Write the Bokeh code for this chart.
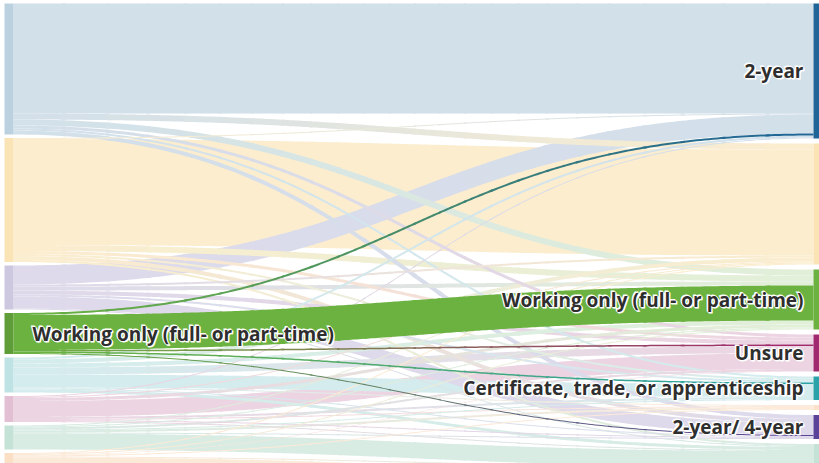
import numpy as np
from bokeh.plotting import figure
from bokeh.models import Range1d, ColumnDataSource
from bokeh.core.properties import value
from bokeh.embed import file_html
from bokeh.resources import INLINE

# ---------------- data ----------------
left_nodes = ["2-year", "4-year", "2-year/ 4-year", "Working only (full- or part-time)",
              "Certificate, trade, or apprenticeship", "Unsure", "Military", "Gap year"]
right_nodes = ["2-year", "4-year", "Working only (full- or part-time)", "Unsure",
               "Certificate, trade, or apprenticeship", "Other", "2-year/ 4-year",
               "Military", "Gap year"]

# flows out of each left node, in the order of right_nodes
flows_2year = [110, 6, 6, 3, 2, 0, 4, 0, 0]
flows_4year = [1, 106, 6, 3, 2, 0, 4, 2, 0]
flows_2y4y = [19, 2, 4, 4, 2, 0, 12, 1, 0]
flows_working = [2, 0, 35, 1.5, 1.5, 0, 1, 0, 0]
flows_cert = [2, 4, 4, 7, 13, 1, 1, 3, 0]
flows_unsure = [1, 1, 3, 16, 2, 1, 1, 1, 0]
flows_military = [0, 1, 1, 2, 1, 2, 1, 16, 0]
flows_gap = [0, 1, 1, 0.5, 0, 1, 0, 1, 17.5]
flow_rows = [flows_2year, flows_4year, flows_2y4y, flows_working,
             flows_cert, flows_unsure, flows_military, flows_gap]

category_colors = {
    "2-year": "#1f6598",
    "4-year": "#eea60a",
    "2-year/ 4-year": "#5b4399",
    "Working only (full- or part-time)": "#6cb241",
    "Certificate, trade, or apprenticeship": "#2aa2a9",
    "Unsure": "#a1296f",
    "Military": "#3c9f74",
    "Gap year": "#f2943a",
    "Other": "#f29a4a",
}
highlight = "Working only (full- or part-time)"

# ---------------- layout constants ----------------
W_FIG, H_FIG = 819, 463
X_MAX, Y_MAX = 819, 463
TOP = 3
LEFT_GAP, RIGHT_GAP = 3.5, 5
L_BAR = (4, 13)
R_BAR = (813, 825)
FADE = 0.2
BAR_FADE = 0.3
FONT = "Open Sans"
FONT_SIZE = "19px"


def hex2rgb(h):
    h = h.lstrip("#")
    return np.array([int(h[i:i + 2], 16) for i in (0, 2, 4)], dtype=float)


def rgb2hex(c):
    c = np.clip(np.round(c), 0, 255).astype(int)
    return "#%02x%02x%02x" % tuple(c)


def pale(h, a):
    return hex2rgb(h) * a + 255 * (1 - a)


flows = np.array(flow_rows, dtype=float)
left_tot = flows.sum(axis=1)
right_tot = flows.sum(axis=0)


def stack(totals, gap):
    tops, y = [], TOP
    for t in totals:
        tops.append(y)
        y += t + gap
    return np.array(tops)


left_top = stack(left_tot, LEFT_GAP)
right_top = stack(right_tot, RIGHT_GAP)

src_off = np.zeros_like(flows)
tgt_off = np.zeros_like(flows)
for i in range(flows.shape[0]):
    acc = left_top[i]
    for j in range(flows.shape[1]):
        src_off[i, j] = acc
        acc += flows[i, j]
for j in range(flows.shape[1]):
    acc = right_top[j]
    for i in range(flows.shape[0]):
        tgt_off[i, j] = acc
        acc += flows[i, j]

N_PTS, N_SLICE = 240, 24
STEP = N_PTS // N_SLICE


def band_slices(x0, x1, ys, yt, w):
    t = np.linspace(0, 1, N_PTS + 1)
    xm = (x0 + x1) / 2
    cx = (1 - t) ** 3 * x0 + 3 * (1 - t) ** 2 * t * xm + 3 * (1 - t) * t ** 2 * xm + t ** 3 * x1
    yc0, yc1 = ys + w / 2, yt + w / 2
    cy = yc0 + (yc1 - yc0) * (3 * t ** 2 - 2 * t ** 3)
    dx, dy = np.gradient(cx), np.gradient(cy)
    ln = np.hypot(dx, dy)
    nx, ny = -dy / ln, dx / ln
    tx, ty = cx - nx * w / 2, cy - ny * w / 2
    bx, by = cx + nx * w / 2, cy + ny * w / 2
    out = []
    for k in range(N_SLICE):
        a = k * STEP
        b = min(a + STEP + 1, N_PTS)
        xs = list(tx[a:b + 1]) + list(bx[a:b + 1][::-1])
        ys_ = list(ty[a:b + 1]) + list(by[a:b + 1][::-1])
        out.append((xs, ys_, (k + 0.5) / N_SLICE))
    return out


faded_links, hi_links = [], []
for i, ln_ in enumerate(left_nodes):
    for j, rn in enumerate(right_nodes):
        w = flows[i, j]
        if w <= 0:
            continue
        rec = (w, i, j)
        (hi_links if ln_ == highlight else faded_links).append(rec)
faded_links.sort(key=lambda r: -r[0])
hi_links.sort(key=lambda r: -r[0])

x0, x1 = L_BAR[1], R_BAR[0]


def build(links, strong):
    XS, YS, C = [], [], []
    for w, i, j in links:
        cs = category_colors[left_nodes[i]]
        ct = category_colors[right_nodes[j]]
        if strong:
            a_c, b_c = hex2rgb(cs), hex2rgb(ct)
        else:
            a_c, b_c = pale(cs, FADE), pale(ct, FADE)
        for xs, ys, f in band_slices(x0, x1, src_off[i, j], tgt_off[i, j], w):
            XS.append(xs)
            YS.append(ys)
            C.append(rgb2hex(a_c * (1 - f) + b_c * f))
    return ColumnDataSource(dict(xs=XS, ys=YS, color=C))


p = figure(width=W_FIG, height=H_FIG, x_range=Range1d(0, X_MAX), y_range=Range1d(Y_MAX, 0),
           output_backend="svg", toolbar_location=None, min_border=0)
p.axis.visible = False
p.grid.visible = False
p.outline_line_color = None
p.background_fill_color = "white"
p.border_fill_color = "white"

p.patches("xs", "ys", source=build(faded_links, False), fill_color="color", line_color=None)
p.patches("xs", "ys", source=build(hi_links, True), fill_color="color", line_color=None)

hi_targets = {right_nodes[j] for w, i, j in hi_links}
lc = [rgb2hex(hex2rgb(category_colors[n]) * 0.88) if n == highlight
      else rgb2hex(pale(category_colors[n], BAR_FADE)) for n in left_nodes]
p.quad(left=L_BAR[0], right=L_BAR[1], top=left_top, bottom=left_top + left_tot,
       fill_color=lc, line_color=None)
rc = [category_colors[n] if n in hi_targets else rgb2hex(pale(category_colors[n], BAR_FADE))
      for n in right_nodes]
p.quad(left=R_BAR[0], right=R_BAR[1], top=right_top, bottom=right_top + right_tot,
       fill_color=rc, line_color=None)

# labels (right: highlighted targets; left: highlighted source)
lab_r = [j for j, n in enumerate(right_nodes) if n in hi_targets]
hi_i = left_nodes.index(highlight)
label_src = ColumnDataSource(dict(
    x=[R_BAR[0] - 10] * len(lab_r) + [L_BAR[1] + 19],
    y=[right_top[j] + right_tot[j] / 2 for j in lab_r] + [left_top[hi_i] + left_tot[hi_i] / 2],
    text=[right_nodes[j] for j in lab_r] + [highlight],
    align=["right"] * len(lab_r) + ["left"]))
common = dict(text_align="align", text_baseline="middle", text_font=value(FONT),
              text_font_style="bold", text_font_size=FONT_SIZE)
# white halo behind the labels
for dxo, dyo in [(0, 0), (1, 1), (-1, -1)]:
    p.text("x", "y", text="text", source=label_src, text_color="white",
           text_outline_color="white", x_offset=dxo, y_offset=dyo, **common)
p.text("x", "y", text="text", source=label_src, text_color="#2e2e2e", **common)

open("out.html", "w").write(file_html(p, INLINE))
